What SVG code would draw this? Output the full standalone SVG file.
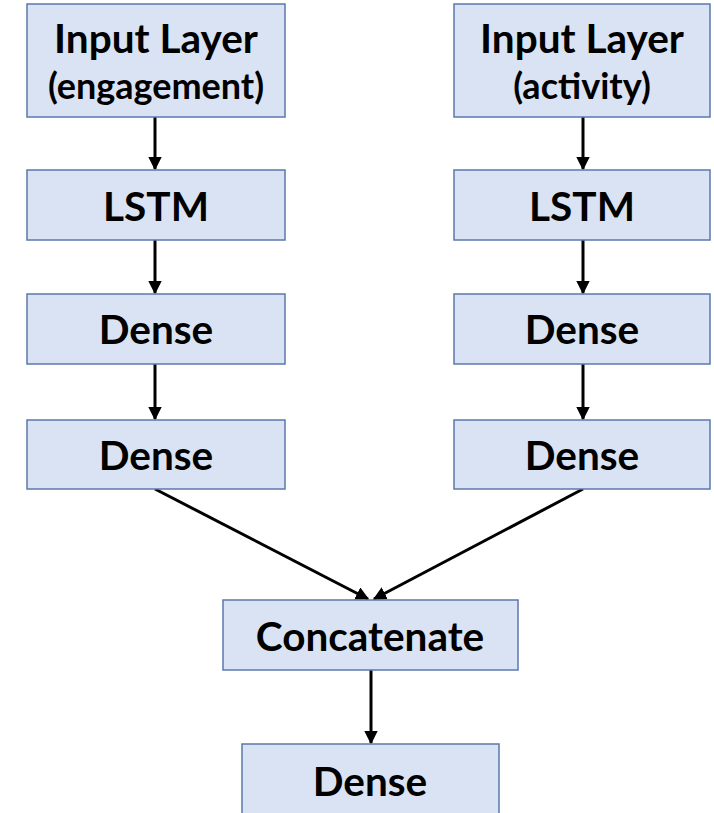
<svg xmlns="http://www.w3.org/2000/svg" width="714" height="813" viewBox="0 0 714 813">
<style>
.box{fill:#dae3f3;stroke:#5b78ad;stroke-width:1.5}
.t{font-family:Lato,"Open Sans","Liberation Sans",sans-serif;font-weight:bold;fill:#000;text-anchor:middle}
.big{font-size:40.5px}
.sm{font-size:36px}
.c{stroke:#000;stroke-width:3;fill:none}
</style>
<defs>
<marker id="ah" viewBox="0 0 10 10" refX="9" refY="5" markerWidth="4.5" markerHeight="4.5" markerUnits="strokeWidth" orient="auto">
<path d="M0,0 L10,5 L0,10 z" fill="#000"/>
</marker>
</defs>
<rect width="714" height="813" fill="#fff"/>
<g id="connectors">
<line class="c" x1="155" y1="117" x2="155" y2="169" marker-end="url(#ah)"/>
<line class="c" x1="155" y1="240" x2="155" y2="293" marker-end="url(#ah)"/>
<line class="c" x1="155" y1="364" x2="155" y2="419" marker-end="url(#ah)"/>
<line class="c" x1="583" y1="117" x2="583" y2="169" marker-end="url(#ah)"/>
<line class="c" x1="583" y1="240" x2="583" y2="293" marker-end="url(#ah)"/>
<line class="c" x1="583" y1="364" x2="583" y2="419" marker-end="url(#ah)"/>
<line class="c" x1="155" y1="489" x2="368" y2="599" marker-end="url(#ah)"/>
<line class="c" x1="583" y1="489" x2="374" y2="599" marker-end="url(#ah)"/>
<line class="c" x1="371" y1="670" x2="371" y2="743" marker-end="url(#ah)"/>
</g>
<g id="in-eng"><rect class="box" x="27" y="4" width="258" height="113"/><text class="t big" x="156" y="53">Input Layer</text><text class="t sm" x="156" y="99">(engagement)</text></g>
<g id="lstm-l"><rect class="box" x="27" y="170" width="258" height="70"/><text class="t big" x="156" y="221">LSTM</text></g>
<g id="dense-l1"><rect class="box" x="27" y="294" width="258" height="70"/><text class="t big" x="156" y="344">Dense</text></g>
<g id="dense-l2"><rect class="box" x="27" y="420" width="258" height="69"/><text class="t big" x="156" y="470">Dense</text></g>
<g id="in-act"><rect class="box" x="454" y="4" width="256" height="113"/><text class="t big" x="582" y="53">Input Layer</text><text class="t sm" x="582" y="99">(activity)</text></g>
<g id="lstm-r"><rect class="box" x="454" y="170" width="256" height="70"/><text class="t big" x="582" y="221">LSTM</text></g>
<g id="dense-r1"><rect class="box" x="454" y="294" width="256" height="70"/><text class="t big" x="582" y="344">Dense</text></g>
<g id="dense-r2"><rect class="box" x="454" y="420" width="256" height="69"/><text class="t big" x="582" y="470">Dense</text></g>
<g id="concat"><rect class="box" x="223" y="600" width="295" height="70"/><text class="t big" x="370" y="651">Concatenate</text></g>
<g id="dense-out"><rect class="box" x="242" y="744" width="257" height="80"/><text class="t big" x="370" y="796">Dense</text></g>
</svg>
